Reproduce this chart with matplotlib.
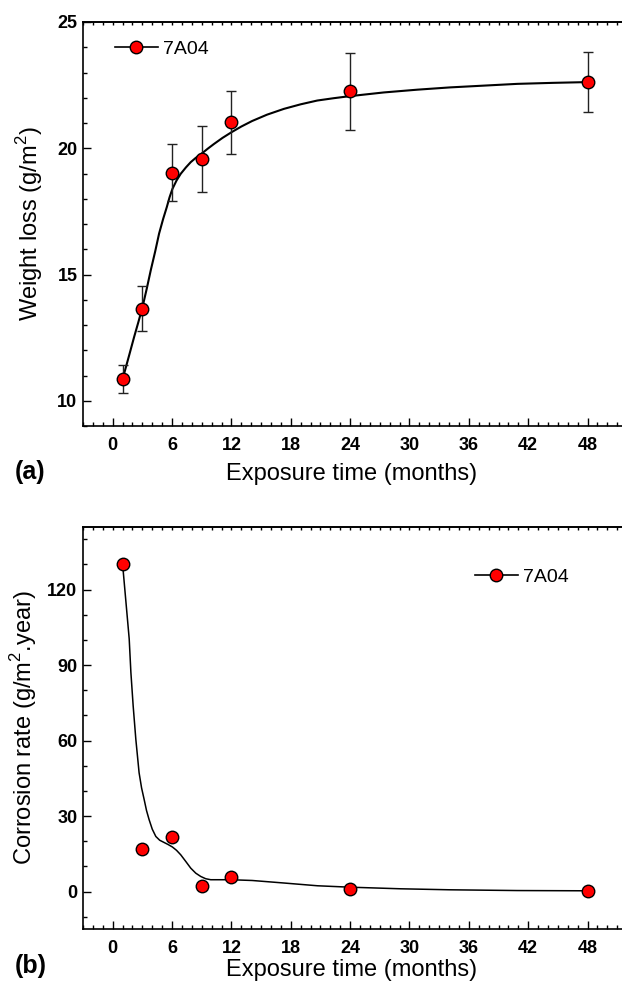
import numpy as np
import matplotlib
matplotlib.use('Agg')
import matplotlib.pyplot as plt
from matplotlib.lines import Line2D
from matplotlib.ticker import MultipleLocator

plt.rcParams['font.family'] = ['Liberation Sans', 'DejaVu Sans']
plt.rcParams['mathtext.fontset'] = 'custom'
plt.rcParams['mathtext.rm'] = 'Liberation Sans'

# exposure times (months)
months = [1, 3, 6, 9, 12, 24, 48]

# (a) weight loss, g/m2, with error bars
weight_loss = [10.85, 13.64, 19.03, 19.58, 21.03, 22.25, 22.62]
weight_err = [0.56, 0.89, 1.12, 1.32, 1.25, 1.52, 1.20]

# fitted curve
fit_a_x = [1.0, 1.16, 1.7, 2.17, 2.6, 3.02, 3.45, 3.85, 4.3, 4.69, 5.1, 5.47, 5.75,
           6.04, 6.45, 6.88, 7.4, 7.89, 8.4, 8.97, 9.6, 10.24, 11.1, 11.99, 13.0,
           14.1, 15.6, 17.31, 19.0, 20.68, 22.3, 23.9, 27.4, 30.8, 34.1, 37.5, 40.9, 44.5, 48.0]
fit_a_y = [10.85, 11.08, 11.85, 12.53, 13.12, 13.72, 14.45, 15.17, 15.92, 16.62, 17.2,
           17.67, 18.06, 18.39, 18.72, 18.99, 19.24, 19.45, 19.62, 19.78, 19.98, 20.17,
           20.41, 20.63, 20.86, 21.08, 21.33, 21.56, 21.74, 21.89, 21.98, 22.06, 22.21,
           22.32, 22.41, 22.48, 22.55, 22.59, 22.62]

# (b) corrosion rate, g/m2.year
corr_rate = [130.2, 17.0, 21.7, 2.3, 5.9, 1.2, 0.3]

fit_b_x = [1.0, 1.67, 1.84, 2.07, 2.34, 2.67, 2.92, 3.18, 3.42, 3.68, 4.0, 4.36, 4.75,
           5.2, 5.6, 6.04, 6.45, 6.88, 7.4, 7.89, 8.4, 8.9, 9.4, 9.91, 11.93, 14.1,
           17.3, 20.7, 23.9, 29.1, 34.1, 40.9, 48.0]
fit_b_y = [130.2, 100.4, 87.1, 73.8, 60.5, 47.2, 41.2, 36.6, 32.2, 28.6, 24.8, 21.9,
           20.4, 19.5, 18.7, 17.7, 16.4, 14.6, 11.9, 9.3, 7.3, 6.0, 5.1, 4.7, 4.7, 4.4,
           3.4, 2.3, 1.75, 1.1, 0.7, 0.4, 0.3]

W, H = 622, 994
fig = plt.figure(figsize=(W / 100, H / 100), dpi=100)

x0_px = 83
x_per_month = 9.91
xmax = 54
ax_right = 111.8 + xmax * x_per_month


def make_ax(top_px, bot_px):
    return fig.add_axes([x0_px / W, 1 - bot_px / H, (ax_right - x0_px) / W, (bot_px - top_px) / H])


ax1 = make_ax(22, 426)
ax2 = make_ax(526.7, 929.3)

tick_family = ['Liberation Sans', 'DejaVu Sans']

for ax in (ax1, ax2):
    ax.set_xlim(-3, xmax)
    ax.xaxis.set_major_locator(MultipleLocator(6))
    ax.xaxis.set_minor_locator(MultipleLocator(1))
    ax.tick_params(which='both', direction='in', top=False, right=False, width=1.0)
    ax.tick_params(which='major', length=6)
    ax.tick_params(which='minor', length=3)
    ax.tick_params(axis='x', which='major', pad=8)
    ax.tick_params(axis='y', which='major', pad=4)
    ax.spines['right'].set_visible(False)
    for s in ('left', 'bottom', 'top'):
        ax.spines[s].set_linewidth(1.2)
    top = ax.secondary_xaxis('top')
    top.xaxis.set_major_locator(MultipleLocator(1))
    top.tick_params(which='both', direction='in', length=1.8, width=1.0, labeltop=False)
    top.spines['top'].set_linewidth(1.2)

# (a)
ax1.set_ylim(9, 25)
ax1.set_yticks([10, 15, 20, 25])
ax1.yaxis.set_minor_locator(MultipleLocator(1))
ax1.plot(fit_a_x, fit_a_y, color='black', lw=1.5, zorder=2)
ax1.errorbar(months, weight_loss, yerr=weight_err, fmt='o', color='black', ecolor='#222222',
             elinewidth=1.0, capsize=3.3, capthick=1.0, markersize=9, markerfacecolor='red',
             markeredgecolor='black', markeredgewidth=1.0, zorder=3)
ax1.set_ylabel('Weight loss (g/m$^2$)', fontsize=17, labelpad=9)

# (b)
ax2.set_ylim(-15, 145)
ax2.set_yticks([0, 30, 60, 90, 120])
ax2.yaxis.set_minor_locator(MultipleLocator(10))
ax2.plot(fit_b_x, fit_b_y, color='black', lw=1.1, zorder=2)
ax2.plot(months, corr_rate, 'o', markersize=9, markerfacecolor='red',
         markeredgecolor='black', markeredgewidth=1.0, zorder=3)
ax2.set_ylabel('Corrosion rate (g/m$^2$.year)', fontsize=17, labelpad=6)

for ax in (ax1, ax2):
    ax.set_xticks([0, 6, 12, 18, 24, 30, 36, 42, 48])
    for lab in ax.get_xticklabels() + ax.get_yticklabels():
        lab.set_fontfamily(tick_family)
        lab.set_fontweight('bold')
        lab.set_fontsize(13)

handle = Line2D([], [], color='black', lw=1.2, marker='o', markersize=9,
                markerfacecolor='red', markeredgecolor='black')
ax_w = ax_right - x0_px
ax1.legend([handle], ['7A04'], loc='center left', frameon=False, fontsize=14,
           bbox_to_anchor=((115 - x0_px) / ax_w, 1 - (49 - 22) / 404),
           borderpad=0, borderaxespad=0, handlelength=2.2, handletextpad=0.25)
ax2.legend([handle], ['7A04'], loc='center left', frameon=False, fontsize=14,
           bbox_to_anchor=((475 - x0_px) / ax_w, 1 - (577 - 526.7) / 402.6),
           borderpad=0, borderaxespad=0, handlelength=2.2, handletextpad=0.25)

fig.text(352 / W, 1 - 474 / H, 'Exposure time (months)', fontsize=17, ha='center', va='center')
fig.text(352 / W, 1 - 970 / H, 'Exposure time (months)', fontsize=17, ha='center', va='center')
fig.text(15 / W, 1 - 472 / H, '(a)', fontsize=18, fontweight='bold', ha='left', va='center')
fig.text(15 / W, 1 - 966 / H, '(b)', fontsize=18, fontweight='bold', ha='left', va='center')

fig.savefig('out.png', dpi=100)
